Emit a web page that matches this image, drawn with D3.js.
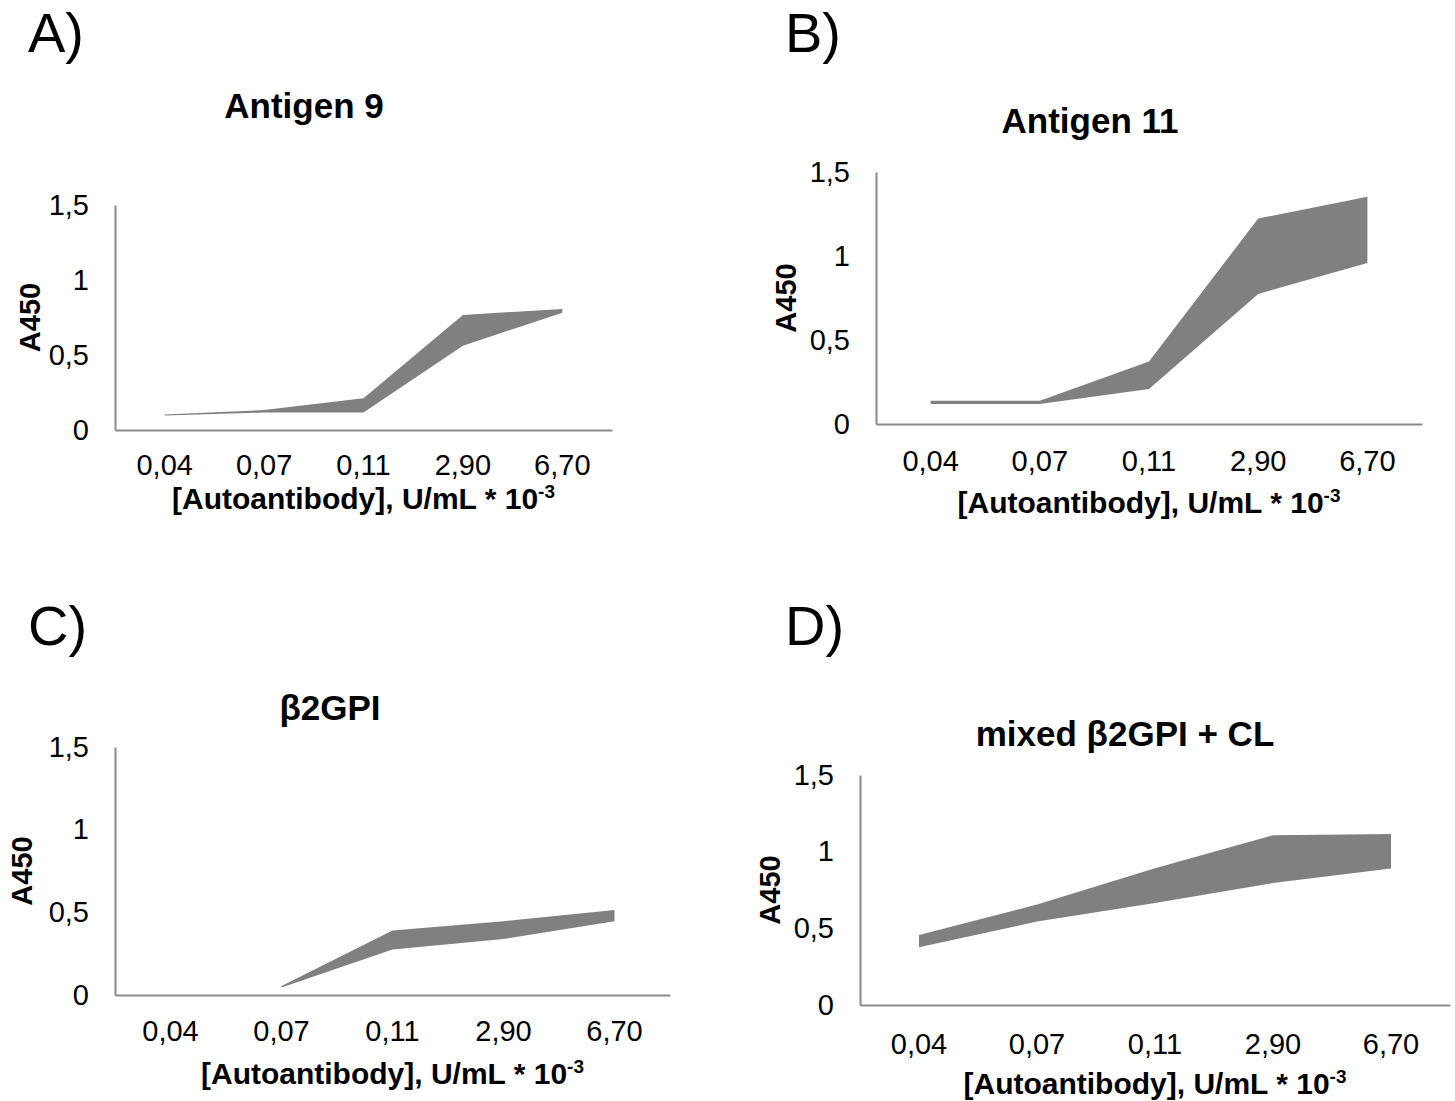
<!DOCTYPE html>
<html>
<head>
<meta charset="utf-8">
<script src="https://cdn.jsdelivr.net/npm/d3@7"></script>
<style>
	body { margin: 0; background: #fff; }
	svg { display: block; font-family: "Liberation Sans", Arial, sans-serif; }
</style>
</head>
<body>
<svg id="chart" width="1455" height="1101"></svg>
<script>
// concentrations (U/mL * 10^-3)
var categories = ['0,04', '0,07', '0,11', '2,90', '6,70'];
var yTicks = [0, 0.5, 1, 1.5];

// A450 band, upper and lower edge for each panel
var antigen9Upper = [0.104, 0.133, 0.211, 0.767, 0.807];
var antigen9Lower = [0.096, 0.116, 0.116, 0.562, 0.782];

var antigen11Upper = [0.139, 0.139, 0.372, 1.223, 1.353];
var antigen11Lower = [0.119, 0.119, 0.209, 0.774, 0.959];

var b2gpiUpper = [null, 0.054, 0.390, 0.446, 0.514];
var b2gpiLower = [null, 0.046, 0.275, 0.339, 0.446];

var mixedUpper = [0.456, 0.655, 0.892, 1.107, 1.115];
var mixedLower = [0.376, 0.544, 0.666, 0.795, 0.890];

var panels = [
	{letter: 'A)', title: 'Antigen 9', upper: antigen9Upper, lower: antigen9Lower,
		x0: 115, x1: 612, yTop: 205, yBot: 430, letterX: 28, letterY: 52,
		titleX: 304, titleY: 118, yLabelX: 30, tickY: 475, xTitleY: 509},
	{letter: 'B)', title: 'Antigen 11', upper: antigen11Upper, lower: antigen11Lower,
		x0: 876, x1: 1422, yTop: 172, yBot: 424, letterX: 785, letterY: 52,
		titleX: 1090, titleY: 133, yLabelX: 786, tickY: 471, xTitleY: 513},
	{letter: 'C)', title: 'β2GPI', upper: b2gpiUpper, lower: b2gpiLower,
		x0: 115, x1: 670, yTop: 747, yBot: 995, letterX: 28, letterY: 645,
		titleX: 330, titleY: 720, yLabelX: 22, tickY: 1041, xTitleY: 1084},
	{letter: 'D)', title: 'mixed β2GPI + CL', upper: mixedUpper, lower: mixedLower,
		x0: 860, x1: 1450, yTop: 775, yBot: 1005, letterX: 785, letterY: 645,
		titleX: 1125, titleY: 746, yLabelX: 770, tickY: 1054, xTitleY: 1094}
];

var locale = d3.formatLocale({decimal: ',', thousands: '.', grouping: [3], currency: ['', '']});
var fmt = locale.format('~g');

var chart = d3.select('#chart');

panels.forEach(function(p) {
	var g = chart.append('g');

	var x = d3.scaleBand()
		.domain(categories)
		.range([p.x0, p.x1]);

	var y = d3.scaleLinear()
		.domain([0, 1.5])
		.range([p.yBot, p.yTop]);

	var rows = categories.map(function(c, i) {
		return {cat: c, lo: p.lower[i], hi: p.upper[i]};
	});

	var area = d3.area()
		.defined(function(d) { return d.hi != null; })
		.x(function(d) { return x(d.cat) + x.bandwidth() / 2; })
		.y0(function(d) { return y(d.lo); })
		.y1(function(d) { return y(d.hi); });

	g.append('path')
		.datum(rows)
		.attr('d', area)
		.attr('fill', '#808080');

	// y axis
	var yAxis = g.append('g')
		.attr('transform', 'translate(' + p.x0 + ',0)')
		.call(d3.axisLeft(y).tickValues(yTicks).tickFormat(fmt).tickSize(0).tickPadding(26));
	yAxis.selectAll('text')
		.attr('font-size', 29)
		.attr('fill', '#000')
		.style('font-family', '"Liberation Sans", Arial, sans-serif');

	// x axis
	var xAxis = g.append('g')
		.attr('transform', 'translate(0,' + p.yBot + ')')
		.call(d3.axisBottom(x).tickSize(0).tickPadding(0));
	xAxis.selectAll('text')
		.attr('y', p.tickY - p.yBot)
		.attr('dy', null)
		.attr('font-size', 29)
		.attr('fill', '#000')
		.style('font-family', '"Liberation Sans", Arial, sans-serif');

	g.selectAll('.domain')
		.attr('stroke', '#8a8a8a')
		.attr('stroke-width', 2);

	// panel letter
	g.append('text')
		.attr('x', p.letterX)
		.attr('y', p.letterY)
		.attr('font-size', 56)
		.text(p.letter);

	// title
	g.append('text')
		.attr('x', p.titleX)
		.attr('y', p.titleY)
		.attr('text-anchor', 'middle')
		.attr('font-size', 35)
		.attr('font-weight', 'bold')
		.text(p.title);

	// y title
	var yMid = (p.yTop + p.yBot) / 2;
	g.append('text')
		.attr('transform', 'translate(' + (p.yLabelX + 10) + ',' + yMid + ') rotate(-90)')
		.attr('text-anchor', 'middle')
		.attr('font-size', 29)
		.attr('font-weight', 'bold')
		.text('A450');

	// x title
	var xt = g.append('text')
		.attr('x', (p.x0 + p.x1) / 2)
		.attr('y', p.xTitleY)
		.attr('text-anchor', 'middle')
		.attr('font-size', 30)
		.attr('font-weight', 'bold');
	xt.append('tspan').text('[Autoantibody], U/mL * 10');
	xt.append('tspan')
		.attr('font-size', 19)
		.attr('dy', -11)
		.text('-3');
});
</script>
</body>
</html>
